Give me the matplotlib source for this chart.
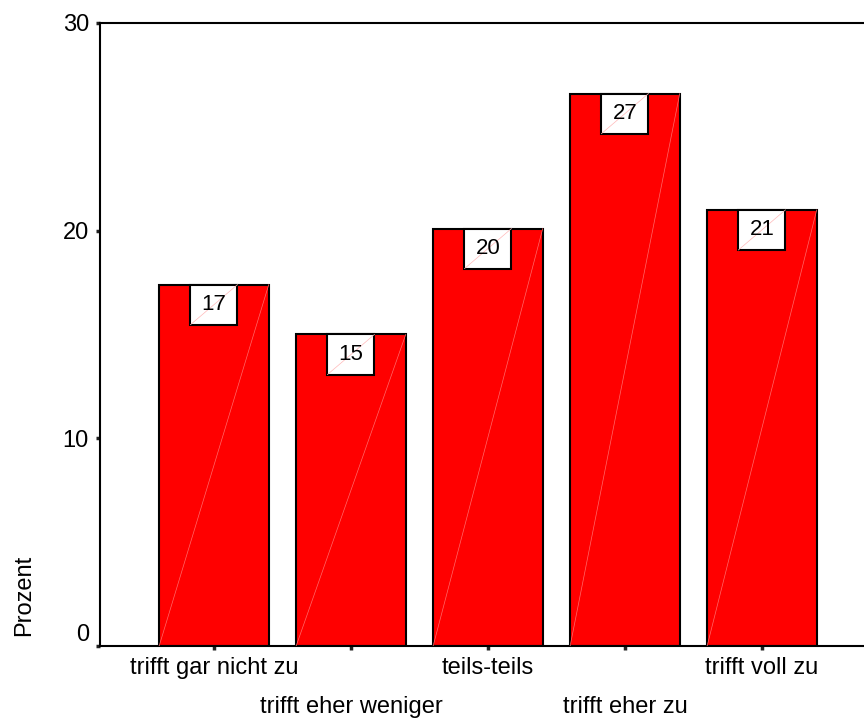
import matplotlib
matplotlib.use("Agg")
import matplotlib.pyplot as plt
from matplotlib.patches import Rectangle
from matplotlib.transforms import offset_copy

plt.rcParams['font.family'] = ['Liberation Sans', 'DejaVu Sans']

categories = ["trifft gar nicht zu", "trifft eher weniger", "teils-teils",
              "trifft eher zu", "trifft voll zu"]
prozent = [17.4, 15.0, 20.1, 26.6, 21.0]
yticks = [0, 10, 20, 30]

fig = plt.figure(figsize=(8.64, 7.2), dpi=100)
ax = fig.add_axes([0.1157, 0.1028, 0.8843, 0.8653])

x = list(range(len(categories)))
bars = ax.bar(x, prozent, width=0.8, color="#ff0000", edgecolor="black", linewidth=1.5, zorder=2)

# faint diagonal line inside every bar, and boxed value labels at the top
box_w, box_h = 0.343, 1.93
for b, v in zip(bars, prozent):
    x0, w = b.get_x(), b.get_width()
    ax.plot([x0, x0 + w], [0, v], color="#ff6a6a", lw=0.5, zorder=3)
    cx = x0 + w / 2
    ax.add_patch(Rectangle((cx - box_w / 2, v - box_h), box_w, box_h,
                           facecolor="white", edgecolor="black", lw=1.5, zorder=4))
    ax.plot([cx - box_w / 2, cx + box_w / 2], [v - box_h, v], color="#ffb8b8", lw=0.5, zorder=5)
    ax.text(cx, v - box_h / 2, f"{v:.0f}", ha="center", va="center", fontsize=16, zorder=6)

ax.set_xlim(-0.832, 4.745)
ax.set_ylim(0, 30)
ax.set_yticks(yticks)
ax.set_yticklabels([str(t) for t in yticks], fontsize=17)
ax.set_xticks(x)
ax.set_xticklabels([])
ax.tick_params(axis="both", direction="out", length=3, width=2.5, color="#222222")
ax.tick_params(axis="y", pad=5)

# lift the 0 label off the x axis
lab0 = ax.get_yticklabels()[0]
lab0.set_transform(offset_copy(lab0.get_transform(), fig=fig, y=13, units="dots"))

# category labels on two staggered rows
for i, name in enumerate(categories):
    dy = -22 if i % 2 == 0 else -61
    ax.annotate(name, xy=(i, 0), xycoords=("data", "axes fraction"),
                xytext=(0, dy * 0.72), textcoords="offset points",
                ha="center", va="center", fontsize=17)

for s in ["left", "bottom", "top"]:
    ax.spines[s].set_linewidth(1.5)
ax.spines["right"].set_visible(False)

fig.text(24 / 864, 1 - 595 / 720, "Prozent", rotation=90, ha="center", va="center", fontsize=17)

fig.savefig("out.png", dpi=100)
